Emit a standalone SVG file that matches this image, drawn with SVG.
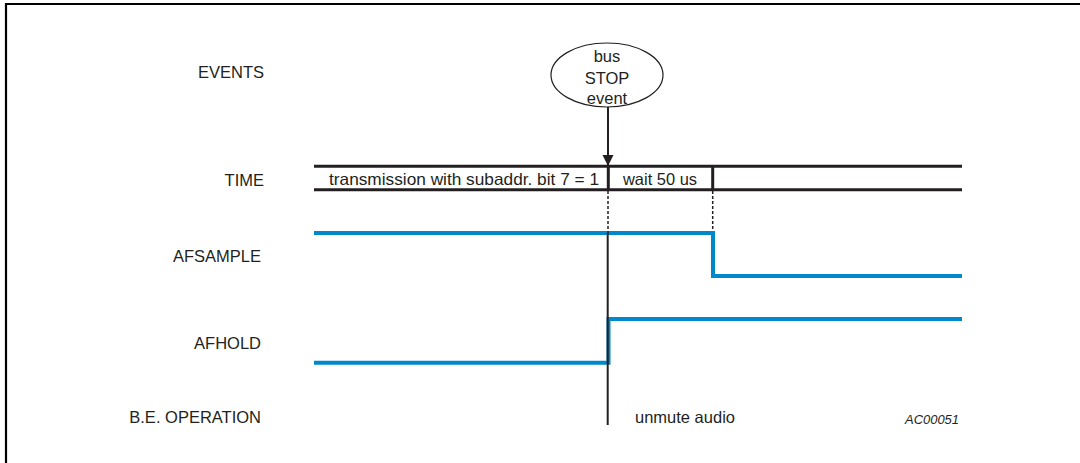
<svg xmlns="http://www.w3.org/2000/svg" width="1080" height="463" viewBox="0 0 1080 463">
<style>
  text { font-family: "Liberation Sans", Arial, sans-serif; fill: #231f20; }
  .lbl { font-size: 16.5px; text-anchor: end; }
  .t { font-size: 16.5px; }
  .ctr { text-anchor: middle; }
  .bar { stroke: #231f20; stroke-width: 3; fill: none; }
  .sig { stroke: #0088cc; stroke-width: 4; fill: none; }
  .dash { stroke: #231f20; stroke-width: 1.5; stroke-dasharray: 3 2; fill: none; }
  .thin { stroke: #231f20; stroke-width: 2; fill: none; }
</style>
<defs>
  <marker id="ah" markerWidth="12" markerHeight="12" refX="11" refY="5.5" orient="auto" markerUnits="userSpaceOnUse">
    <path d="M0,0 L11,5.5 L0,11 Z" fill="#231f20"/>
  </marker>
</defs>
<rect width="1080" height="463" fill="#ffffff"/>
<path d="M6,463 V4 H1080" stroke="#000" stroke-width="2.2" fill="none"/>

<g id="labels">
  <text class="lbl" x="264" y="78">EVENTS</text>
  <text class="lbl" x="264" y="186">TIME</text>
  <text class="lbl" x="261" y="262">AFSAMPLE</text>
  <text class="lbl" x="261" y="349">AFHOLD</text>
  <text class="lbl" x="261" y="423">B.E. OPERATION</text>
</g>

<g id="event-bus-stop">
  <ellipse cx="607" cy="75" rx="56" ry="32" fill="#fff" stroke="#231f20" stroke-width="1.2"/>
  <text class="t ctr" x="607" y="62">bus</text>
  <text class="t ctr" x="607" y="84">STOP</text>
  <text class="t ctr" x="607" y="104">event</text>
</g>

<g id="time-axis">
  <line class="bar" x1="314" y1="166.3" x2="962" y2="166.3"/>
  <line class="bar" x1="314" y1="189.7" x2="962" y2="189.7"/>
  <line class="bar" x1="608.3" y1="166" x2="608.3" y2="190"/>
  <line class="bar" x1="712.7" y1="166" x2="712.7" y2="190"/>
  <text class="t" x="329" y="185" textLength="270" lengthAdjust="spacingAndGlyphs">transmission with subaddr. bit 7 = 1</text>
  <text class="t" x="623" y="185" textLength="74" lengthAdjust="spacingAndGlyphs">wait 50 us</text>
</g>

<g id="afsample">
  <path class="sig" d="M314,233 H713 V276 H962"/>
</g>

<g id="afhold">
  <path class="sig" d="M314,362.8 H608.5 V319 H962"/>
</g>

<g id="be-operation">
  <text class="t" x="635" y="423">unmute audio</text>
  <text x="905" y="424" style="font-size:12.5px;font-style:italic" textLength="54" lengthAdjust="spacingAndGlyphs">AC00051</text>
</g>

<g id="connectors">
  <line class="thin" x1="608" y1="107" x2="608" y2="166" marker-end="url(#ah)"/>
  <line class="dash" x1="608" y1="191" x2="608" y2="233"/>
  <line class="dash" x1="712.7" y1="191" x2="712.7" y2="231"/>
  <line class="thin" x1="607.7" y1="233" x2="607.7" y2="425"/>
</g>
</svg>
